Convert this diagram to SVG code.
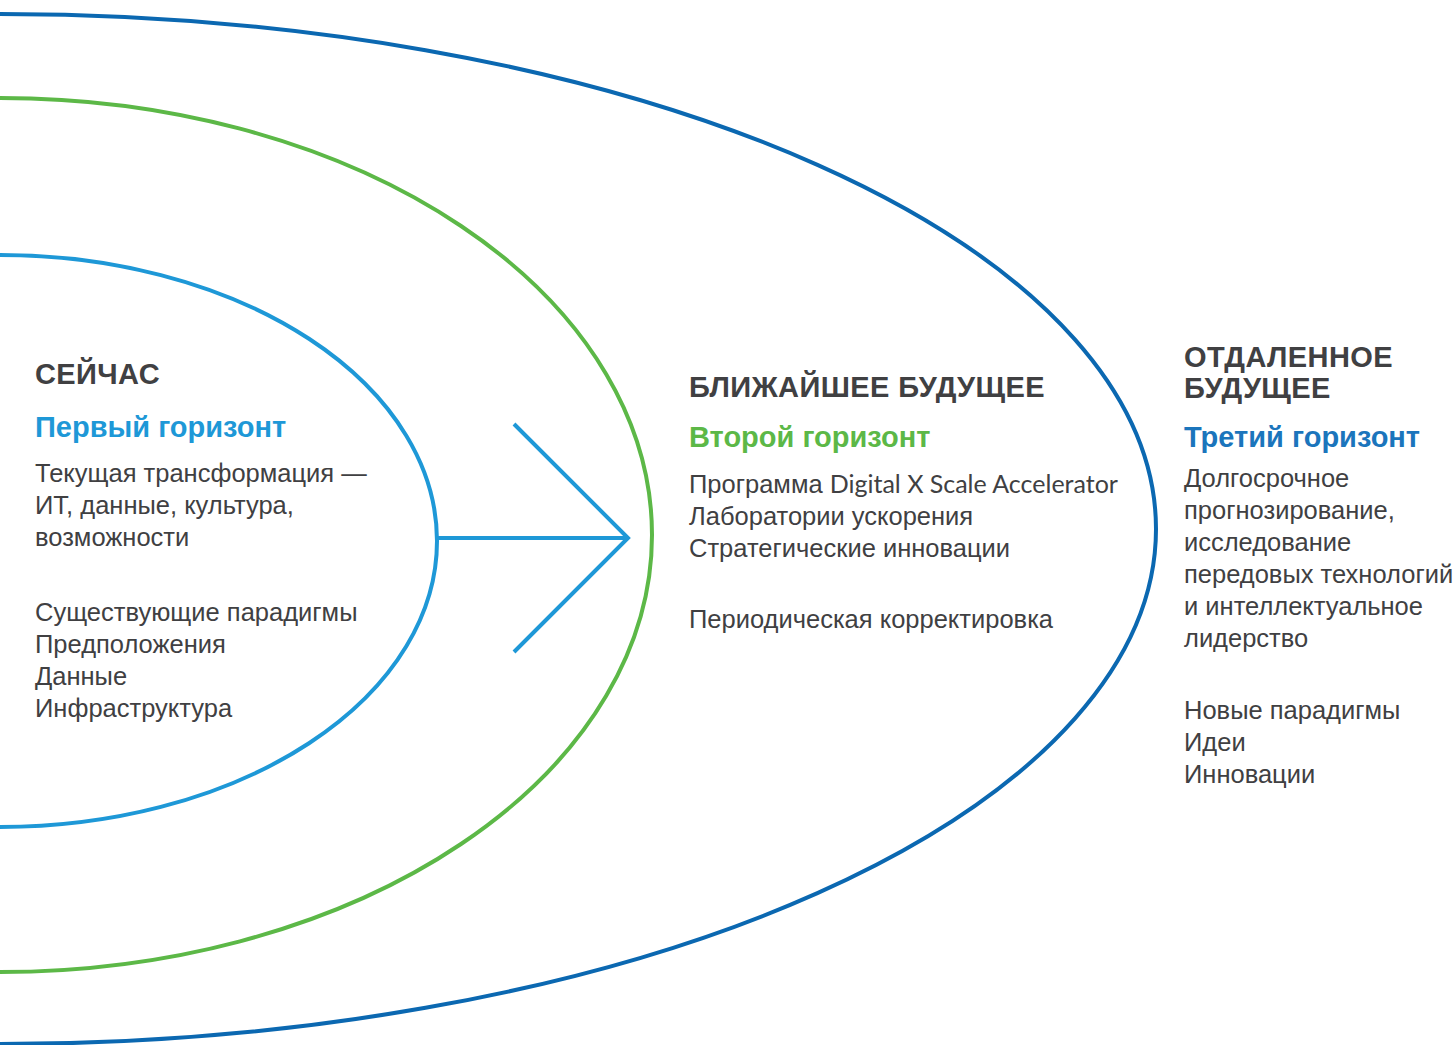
<svg xmlns="http://www.w3.org/2000/svg" width="1456" height="1045" viewBox="0 0 1456 1045">
<style>
.ring{fill:none;stroke-width:4}
.h{font-family:"Liberation Sans",Arial,sans-serif;font-weight:bold;font-size:29px;letter-spacing:0.4px;fill:#404042}
.t{font-family:"Liberation Sans",Arial,sans-serif;font-weight:bold;font-size:29px}
.b{font-family:"Liberation Sans",Arial,sans-serif;font-size:25.5px;fill:#404042}
.g{font-family:Lato,"Liberation Sans",sans-serif;font-size:25px}
.arr{fill:none;stroke:#1e98d7;stroke-width:4}
</style>
<rect width="1456" height="1045" fill="#ffffff"/>
<g id="horizon3">
<ellipse class="ring" cx="0" cy="529" rx="1156" ry="515" stroke="#0b68b1"/>
<text class="h" x="1184" y="367">ОТДАЛЕННОЕ</text>
<text class="h" x="1184" y="398">БУДУЩЕЕ</text>
<text class="t" x="1184" y="447" fill="#1b75bc">Третий горизонт</text>
<text class="b" x="1184" y="487">Долгосрочное</text>
<text class="b" x="1184" y="519">прогнозирование,</text>
<text class="b" x="1184" y="551">исследование</text>
<text class="b" x="1184" y="583">передовых технологий</text>
<text class="b" x="1184" y="615">и интеллектуальное</text>
<text class="b" x="1184" y="647">лидерство</text>
<text class="b" x="1184" y="719">Новые парадигмы</text>
<text class="b" x="1184" y="751">Идеи</text>
<text class="b" x="1184" y="783">Инновации</text>
</g>
<g id="horizon2">
<ellipse class="ring" cx="0" cy="535" rx="652" ry="437" stroke="#5cb847"/>
<text class="h" x="689" y="397">БЛИЖАЙШЕЕ БУДУЩЕЕ</text>
<text class="t" x="689" y="447" fill="#5cb847">Второй горизонт</text>
<text class="b" x="689" y="493">Программа <tspan class="g">Digital X Scale Accelerator</tspan></text>
<text class="b" x="689" y="525">Лаборатории ускорения</text>
<text class="b" x="689" y="557">Стратегические инновации</text>
<text class="b" x="689" y="628">Периодическая корректировка</text>
</g>
<g id="horizon1">
<ellipse class="ring" cx="0" cy="541" rx="437" ry="286" stroke="#1e98d7"/>
<text class="h" x="35" y="384">СЕЙЧАС</text>
<text class="t" x="35" y="437" fill="#1e98d7">Первый горизонт</text>
<text class="b" x="35" y="482">Текущая трансформация —</text>
<text class="b" x="35" y="514">ИТ, данные, культура,</text>
<text class="b" x="35" y="546">возможности</text>
<text class="b" x="35" y="621">Существующие парадигмы</text>
<text class="b" x="35" y="653">Предположения</text>
<text class="b" x="35" y="685">Данные</text>
<text class="b" x="35" y="717">Инфраструктура</text>
</g>
<g id="connectors">
<path class="arr" d="M437 538 H628 M514 424 L628 538 L514 652"/>
</g>
</svg>
